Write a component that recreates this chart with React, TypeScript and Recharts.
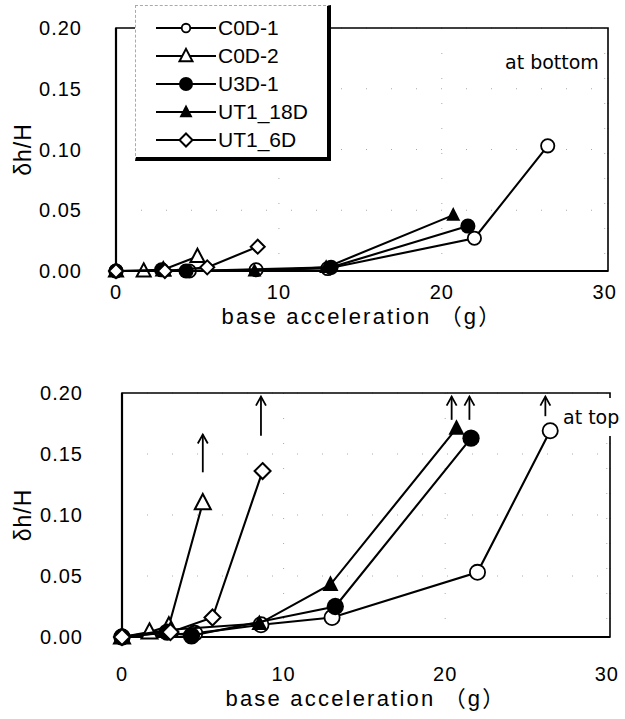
import React from 'react';
import { ScatterChart, Scatter, XAxis, YAxis, CartesianGrid, ReferenceArea, ReferenceLine, Label } from 'recharts';

// base acceleration (g) for each specimen's shaking steps
const c0d1X = [0, 4.5, 8.6, 13.0, 22.0, 26.5];
const c0d2X = [0, 1.7, 2.9, 5.0];
const u3d1X = [0, 2.8, 4.3, 13.2, 21.6];
const ut118dX = [0, 3.0, 8.5, 12.9, 20.7];
const ut16dX = [0, 3.0, 5.6, 8.7];

// δh/H measured at bottom
const c0d1Bottom = [0, 0, 0.001, 0.002, 0.027, 0.103];
const c0d2Bottom = [0, 0, 0.001, 0.012];
const u3d1Bottom = [0, 0.001, 0, 0.003, 0.037];
const ut118dBottom = [0, 0, 0, 0.003, 0.046];
const ut16dBottom = [0, 0, 0.003, 0.020];

// δh/H measured at top
const c0d1Top = [0, 0.003, 0.010, 0.016, 0.053, 0.169];
const c0d2Top = [0, 0.004, 0.009, 0.110];
const u3d1Top = [0, 0.004, 0.001, 0.025, 0.163];
const ut118dTop = [0, 0.006, 0.011, 0.043, 0.171];
const ut16dTop = [0, 0.004, 0.016, 0.136];

// "beyond measurement" arrows in the top panel
const arrowX = [5.0, 8.6, 20.4, 21.5, 26.2];
const arrowBase = [0.135, 0.165, 0.178, 0.178, 0.181];
const arrowTip = [0.166, 0.197, 0.197, 0.197, 0.197];

const xTicks = [0, 10, 20, 30];
const yTicks = [0, 0.05, 0.1, 0.15, 0.2];

const series = [
    { name: 'C0D-1', x: c0d1X, bottom: c0d1Bottom, top: c0d1Top, marker: 'openCircle' },
    { name: 'C0D-2', x: c0d2X, bottom: c0d2Bottom, top: c0d2Top, marker: 'openTriangle' },
    { name: 'U3D-1', x: u3d1X, bottom: u3d1Bottom, top: u3d1Top, marker: 'filledCircle' },
    { name: 'UT1_18D', x: ut118dX, bottom: ut118dBottom, top: ut118dTop, marker: 'filledTriangle' },
    { name: 'UT1_6D', x: ut16dX, bottom: ut16dBottom, top: ut16dTop, marker: 'openDiamond' },
];

const FONT = "'Liberation Sans', Arial, 'Noto Sans CJK JP', sans-serif";
const SANS = "'DejaVu Sans', sans-serif";

const Marker = ({ kind, cx, cy, s }: { kind: string; cx: number; cy: number; s: number }) => {
    if (cx == null || cy == null) return null;
    const h = s / 2;
    switch (kind) {
        case 'openCircle':
            return <circle cx={cx} cy={cy} r={h * 0.95} fill="#fff" stroke="#000" strokeWidth={1.8} />;
        case 'filledCircle':
            return <circle cx={cx} cy={cy} r={h * 1.08} fill="#000" />;
        case 'openTriangle':
            return <polygon points={`${cx},${cy - h * 1.1} ${cx + h},${cy + h * 0.8} ${cx - h},${cy + h * 0.8}`} fill="#fff" stroke="#000" strokeWidth={2} strokeLinejoin="miter" />;
        case 'filledTriangle':
            return <polygon points={`${cx},${cy - h * 1.15} ${cx + h},${cy + h * 0.8} ${cx - h},${cy + h * 0.8}`} fill="#000" />;
        case 'openDiamond':
            return <polygon points={`${cx},${cy - h} ${cx + h},${cy} ${cx},${cy + h} ${cx - h},${cy}`} fill="#fff" stroke="#000" strokeWidth={2} />;
        default:
            return null;
    }
};

const ArrowHead = (p: any) => {
    if (p.cx == null) return null;
    return <polyline points={`${p.cx - 5},${p.cy + 9} ${p.cx},${p.cy} ${p.cx + 5},${p.cy + 9}`} fill="none" stroke="#000" strokeWidth={1.8} />;
};

interface PanelProps {
    which: 'bottom' | 'top';
    top: number;
    height: number;
    plotTop: number;
    plotBottom: number;
    plotLeft: number;
    plotRight: number;
    size: number;
    yTickGap: number;
    xTickGap: number;
    titleGap: number;
}

const Panel: React.FC<PanelProps> = (p) => {
    return (
        <div style={{ position: 'absolute', left: 0, top: p.top }}>
            <ScatterChart width={625} height={p.height} margin={{ top: p.plotTop, right: 625 - p.plotRight, bottom: 0, left: 0 }}>
                <CartesianGrid stroke="#aaa" strokeDasharray="1 24" />
                <ReferenceArea x1={0} x2={30.2} y1={0} y2={0.2} fill="none" fillOpacity={0} stroke="#000" strokeWidth={1.6} />
                <XAxis
                    type="number"
                    dataKey="x"
                    domain={[0, 30.2]}
                    ticks={xTicks}
                    tickSize={0}
                    tickMargin={p.xTickGap}
                    height={p.height - p.plotBottom}
                    axisLine={{ stroke: '#000', strokeWidth: 2.2 }}
                    tick={{ fill: '#000', fontSize: 20, fontFamily: FONT, letterSpacing: 1 }}
                >
                    <Label
                        content={({ viewBox }: any) => (
                            <text x={viewBox.x + viewBox.width / 2} y={viewBox.y + p.titleGap} textAnchor="middle" dominantBaseline="central" fontFamily={FONT} fontSize={22} letterSpacing={2.2} fill="#000">
                                base acceleration （g）
                            </text>
                        )}
                    />
                </XAxis>
                <YAxis
                    type="number"
                    dataKey="y"
                    domain={[0, 0.2]}
                    ticks={yTicks}
                    width={p.plotLeft}
                    tickSize={0}
                    tickMargin={p.yTickGap}
                    tickFormatter={(v: number) => v.toFixed(2)}
                    axisLine={{ stroke: '#000', strokeWidth: 2.2 }}
                    tick={{ fill: '#000', fontSize: 20, fontFamily: FONT, letterSpacing: 1 }}
                >
                    <Label
                        content={({ viewBox }: any) => {
                            const cy = viewBox.y + viewBox.height / 2;
                            return (
                                <text x={23} y={cy} transform={`rotate(-90 23 ${cy})`} textAnchor="middle" dominantBaseline="central" fontFamily={FONT} fontSize={23} letterSpacing={1} fill="#000">
                                    δh/H
                                </text>
                            );
                        }}
                    />
                </YAxis>
                {series.map((s) => (
                    <Scatter
                        key={s.name}
                        name={s.name}
                        data={s.x.map((x, i) => ({ x, y: s[p.which][i] }))}
                        line={{ stroke: '#000', strokeWidth: 2.1 }}
                        shape={(m: any) => <Marker kind={s.marker} cx={m.cx} cy={m.cy} s={p.size} />}
                        isAnimationActive={false}
                    />
                ))}
                {p.which === 'top' &&
                    arrowX.map((x, i) => (
                        <ReferenceLine key={'a' + i} segment={[{ x, y: arrowBase[i] }, { x, y: arrowTip[i] }]} stroke="#000" strokeWidth={1.8} />
                    ))}
                {p.which === 'top' && (
                    <Scatter
                        name="arrows"
                        data={arrowX.map((x, i) => ({ x, y: arrowTip[i] }))}
                        shape={ArrowHead}
                        isAnimationActive={false}
                    />
                )}
            </ScatterChart>
        </div>
    );
};

const LegendBox = () => (
    <div
        style={{
            position: 'absolute',
            left: 135,
            top: 5,
            width: 191,
            height: 151,
            background: '#fff',
            borderTop: '1px dashed #aaa',
            borderLeft: '1px dashed #aaa',
            borderRight: '4px solid #000',
            borderBottom: '4px solid #000',
        }}
    >
        {series.map((s, i) => (
            <div key={s.name} style={{ position: 'absolute', left: 0, top: 8 + i * 28, height: 28, display: 'flex', alignItems: 'center' }}>
                <svg width={82} height={28}>
                    <line x1={20} x2={80} y1={14} y2={14} stroke="#000" strokeWidth={2} />
                    <Marker kind={s.marker} cx={50} cy={14} s={s.marker === 'openCircle' ? 9 : 13} />
                </svg>
                <span style={{ fontFamily: FONT, fontSize: 21, color: '#000', lineHeight: '28px' }}>{s.name}</span>
            </div>
        ))}
    </div>
);

export default function App() {
    return (
        <div style={{ position: 'absolute', left: 0, top: 0, width: 625, height: 719, background: '#fff', overflow: 'hidden' }}>
            <Panel which="bottom" top={0} height={345} plotTop={28} plotBottom={271} plotLeft={116} plotRight={608} size={14} yTickGap={34} xTickGap={14} titleGap={45} />
            <Panel which="top" top={360} height={359} plotTop={33} plotBottom={277} plotLeft={122} plotRight={610} size={16} yTickGap={39} xTickGap={30} titleGap={61} />
            <LegendBox />
            <div style={{ position: 'absolute', left: 505, top: 50, fontFamily: SANS, fontSize: 19, color: '#000', background: '#fff', lineHeight: '24px' }}>at bottom</div>
            <div style={{ position: 'absolute', left: 563, top: 398, width: 62, height: 38, fontFamily: SANS, fontSize: 19, color: '#000', background: '#fff', lineHeight: '38px' }}>at top</div>
        </div>
    );
}
